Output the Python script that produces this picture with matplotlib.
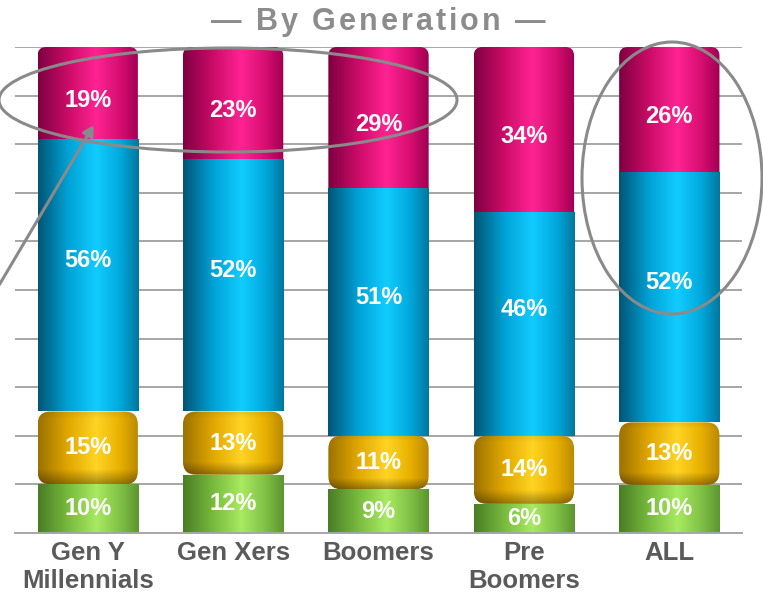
import numpy as np
import matplotlib
matplotlib.use("Agg")
import matplotlib.pyplot as plt
from matplotlib.patches import Rectangle, FancyBboxPatch, Ellipse, FancyArrowPatch

plt.rcParams['font.family'] = ['Liberation Sans', 'DejaVu Sans']

categories = ['Gen Y\nMillennials', 'Gen Xers', 'Boomers', 'Pre\nBoomers', 'ALL']
green = [10, 12, 9, 6, 10]
yellow = [15, 13, 11, 14, 13]
blue = [56, 52, 51, 46, 52]
magenta = [19, 23, 29, 34, 26]

# cylinder shading: dark edge -> base -> highlight -> base -> dark edge
SHADES = {
    'green':   ['#4a7d24', '#78bb3e', '#a9ea62', '#80c046', '#5c9630'],
    'yellow':  ['#9c7200', '#e2a800', '#ffd424', '#e8b000', '#b88800'],
    'blue':    ['#005676', '#00a2d6', '#12ccff', '#00a8dc', '#00789e'],
    'magenta': ['#7e0040', '#cc0c68', '#ff2392', '#d60e70', '#a00052'],
}
STOPS = [0.0, 0.3, 0.58, 0.82, 1.0]
# nudge of the value labels off the segment centre (data units)
LABEL_SHIFT = {'green': 0, 'yellow': 0, 'blue': 3, 'magenta': -1.5}


def hex2rgb(h):
    return np.array([int(h[i:i + 2], 16) / 255 for i in (1, 3, 5)])


def shade_img(name, rounded=False, n=120):
    cols = np.array([hex2rgb(c) for c in SHADES[name]])
    xs = np.linspace(0, 1, n)
    row = np.stack([np.interp(xs, STOPS, cols[:, k]) for k in range(3)], axis=1)
    ys = np.linspace(0, 1, 60)  # 0 = top row of image
    vert = np.ones_like(ys)
    if rounded:
        vert = np.where(ys > 0.8, 1 - (ys - 0.8) * 1.7, vert)
        vert = np.where(ys < 0.1, 0.93 + ys * 0.7, vert)
    img = row[None, :, :] * vert[:, None, None]
    return np.clip(img, 0, 1)


fig = plt.figure(figsize=(7.63, 6.01), dpi=100)
ax = fig.add_axes([15 / 763, 68 / 601, 727 / 763, 486 / 601])

x = np.arange(len(categories))
width = 0.69

for v in range(10, 101, 10):
    ax.axhline(v, color='#a6a6a6', lw=1.4, zorder=0)

series = [('green', green), ('yellow', yellow), ('blue', blue), ('magenta', magenta)]
totals = np.sum([s[1] for s in series], axis=0)
asp = (486 / 100) / (727 / 5)  # pixels per y-unit / pixels per x-unit

for i in range(len(categories)):
    bottom = 0.0
    for name, vals in series:
        h = vals[i] / totals[i] * 100
        x0 = x[i] - width / 2
        ylo = bottom
        if name == 'yellow':
            patch = FancyBboxPatch((x0, bottom), width, h,
                                   boxstyle='round,pad=0,rounding_size=0.09',
                                   mutation_aspect=1 / asp, fc='none', ec='none')
            z = 4
        elif name == 'magenta':
            ylo = bottom - 4
            patch = FancyBboxPatch((x0, ylo), width, h + 4,
                                   boxstyle='round,pad=0,rounding_size=0.06',
                                   mutation_aspect=1 / asp, fc='none', ec='none')
            z = 1.5
        else:
            patch = Rectangle((x0, bottom), width, h, fc='none', ec='none')
            z = 2
        ax.add_patch(patch)
        im = ax.imshow(shade_img(name, rounded=(name == 'yellow')),
                       extent=[x0, x0 + width, ylo, bottom + h],
                       aspect='auto', interpolation='bilinear', zorder=z)
        im.set_clip_path(patch)
        ax.text(x[i], bottom + h / 2 + LABEL_SHIFT[name], f'{vals[i]}%',
                ha='center', va='center', color='white', fontsize=17,
                fontweight='bold', zorder=6)
        bottom += h

ax.set_xlim(-0.5, len(categories) - 0.5)
ax.set_ylim(0, 100)
ax.set_xticks(x)
ax.set_xticklabels(categories, fontsize=18.5, fontweight='bold', color='#5a5a5a',
                   linespacing=1.2, va='top')
ax.tick_params(axis='x', length=0, pad=6)
ax.set_yticks([])
for side in ['left', 'right', 'top']:
    ax.spines[side].set_visible(False)
ax.spines['bottom'].set_color('#a6a6a6')
ax.spines['bottom'].set_linewidth(1.4)

# title with extra letter spacing, placed one glyph at a time
title = '— By Generation —'
tracking = 3.0  # px between glyphs
renderer = fig.canvas.get_renderer()
pieces = []
for ch in title:
    t = fig.text(0, 0, ch, fontsize=22, fontweight='bold', color='#8c8c8c',
                 va='center', ha='left')
    pieces.append(t)
widths = []
for ch, t in zip(title, pieces):
    if ch == ' ':
        widths.append(22 * 100 / 72 * 0.278)
    else:
        widths.append(t.get_window_extent(renderer).width)
total = sum(widths) + tracking * (len(title) - 1)
xpos = 378 - total / 2
for w, t in zip(widths, pieces):
    t.set_position((xpos / 763, 1 - 22 / 601))
    xpos += w + tracking

# callout overlay in pixel coordinates
ov = fig.add_axes([0, 0, 1, 1], facecolor='none')
ov.set_xlim(0, 763)
ov.set_ylim(601, 0)
ov.axis('off')
ov.add_patch(Ellipse((228, 100), 458, 104, fill=False, ec='#8a8a8a', lw=2.2, zorder=7))
ov.add_patch(Ellipse((672, 178), 180, 272, fill=False, ec='#8a8a8a', lw=2.2, zorder=7))
ov.add_patch(FancyArrowPatch((-2, 287), (95, 123), arrowstyle='-|>,head_length=6,head_width=3.5',
                             color='#8a8a8a', lw=2.2, zorder=7))

fig.savefig('out.png', dpi=100)
